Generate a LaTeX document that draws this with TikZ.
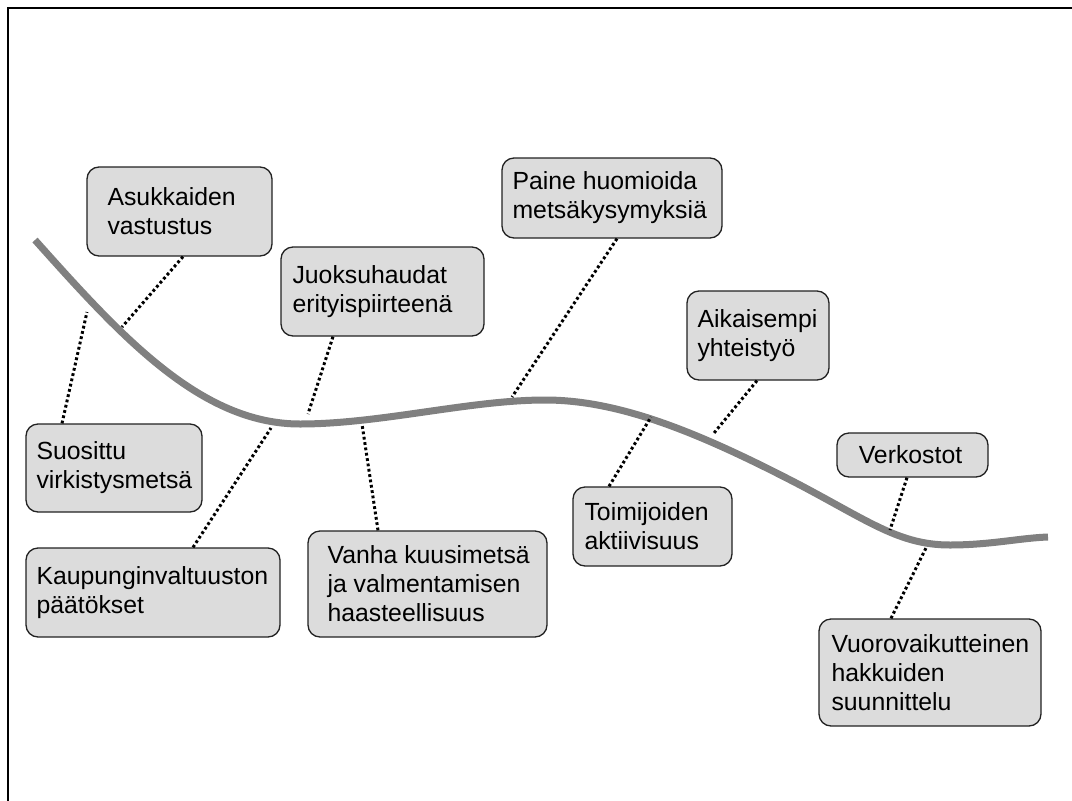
\documentclass[tikz,border=0pt]{standalone}
\usepackage{fontspec}
\setmainfont{Liberation Sans}
\usetikzlibrary{calc}
\definecolor{boxfill}{HTML}{DCDCDC}
\definecolor{boxline}{HTML}{222222}
\definecolor{curvegray}{HTML}{808080}
\begin{document}
\begin{tikzpicture}[x=1pt,y=-1pt,
  bx/.style={draw=boxline, line width=1.3pt, fill=boxfill, rounded corners=12pt, inner sep=0pt},
  txt/.style={anchor=west, align=left, inner sep=0pt, font=\fontsize{24.8pt}{29pt}\selectfont, text=black},
  dotline/.style={line width=3pt, dash pattern=on 2.8pt off 2.6pt, black},
  curve/.style={line width=7pt, curvegray}]
\useasboundingbox (0,0) rectangle (1072,801);
% frame
\draw[line width=2pt, black] (7.5,801) -- (7.5,7.5) -- (1072,7.5);
% curve
\draw[curve] (35,240) .. controls (120,335) and (200,424) .. (300,424)
  .. controls (380,424) and (470,400) .. (545,400)
  .. controls (620,400) and (700,433) .. (800,485)
  .. controls (870,522) and (900,545) .. (950,545)
  .. controls (990,545) and (1020,538) .. (1048,537);
% curve contact points
\coordinate (cA) at (122,327);
\coordinate (cS) at (87,312);
\coordinate (cJ) at (308,414);
\coordinate (cK) at (271,428);
\coordinate (cVa) at (362,424);
\coordinate (cP) at (512,397);
\coordinate (cT) at (651,417);
\coordinate (cAi) at (714,433);
\coordinate (cV) at (890,530);
\coordinate (cVu) at (926,548);
% boxes
\node[bx, minimum width=185pt, minimum height=89pt] (A) at (179.5,211.5) {};
\node[txt] (At) at ([xshift=21pt]A.west) {Asukkaiden\\vastustus};
\node[bx, minimum width=203pt, minimum height=89pt] (J) at (382.5,291.5) {};
\node[txt] (Jt) at ([xshift=12pt]J.west) {Juoksuhaudat\\erityispiirteenä};
\node[bx, minimum width=220pt, minimum height=80pt] (P) at (612,198) {};
\node[txt] (Pt) at ([xshift=11pt]P.west) {Paine huomioida\\metsäkysymyksiä};
\node[bx, minimum width=142pt, minimum height=89pt] (Ai) at (758,335.5) {};
\node[txt] (Ait) at ([xshift=11pt]Ai.west) {Aikaisempi\\yhteistyö};
\node[bx, minimum width=151pt, minimum height=44pt] (V) at (912.5,455) {};
\node[txt, anchor=center] (Vt) at ([xshift=-2pt]V.center) {Verkostot};
\node[bx, minimum width=176pt, minimum height=88pt] (S) at (114,468) {};
\node[txt] (St) at ([xshift=11pt]S.west) {Suosittu\\virkistysmetsä};
\node[bx, minimum width=254pt, minimum height=89pt] (K) at (153,592.5) {};
\node[txt] (Kt) at ([xshift=11pt]K.west) {Kaupunginvaltuuston\\päätökset};
\node[bx, minimum width=239pt, minimum height=106pt] (Va) at (427.5,584) {};
\node[txt] (Vat) at ([xshift=20pt]Va.west) {Vanha kuusimetsä\\ja valmentamisen\\haasteellisuus};
\node[bx, minimum width=159pt, minimum height=79pt] (T) at (652.5,526.5) {};
\node[txt] (Tt) at ([xshift=12pt]T.west) {Toimijoiden\\aktiivisuus};
\node[bx, minimum width=222pt, minimum height=107pt] (Vu) at (930,672.5) {};
\node[txt] (Vut) at ([xshift=13pt]Vu.west) {Vuorovaikutteinen\\hakkuiden\\suunnittelu};
% connectors
\draw[dotline] ([xshift=3.5pt]A.south) -- (cA);
\draw[dotline] ([xshift=-52pt]S.north) -- (cS);
\draw[dotline] ([xshift=-49.5pt]J.south) -- (cJ);
\draw[dotline] ([xshift=40pt]K.north) -- (cK);
\draw[dotline] ([xshift=-49.5pt]Va.north) -- (cVa);
\draw[dotline] ([xshift=5pt]P.south) -- (cP);
\draw[dotline] ([xshift=-43.5pt]T.north) -- (cT);
\draw[dotline] ([xshift=-1pt]Ai.south) -- (cAi);
\draw[dotline] ([xshift=-5.5pt]V.south) -- (cV);
\draw[dotline] ([xshift=-39pt]Vu.north) -- (cVu);
\end{tikzpicture}
\end{document}
